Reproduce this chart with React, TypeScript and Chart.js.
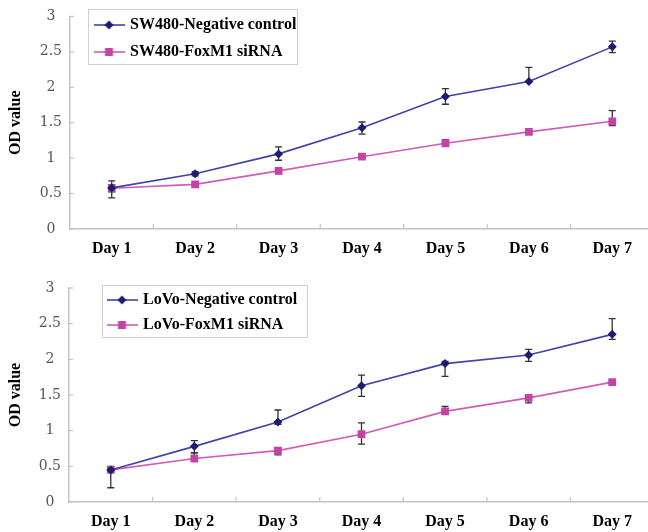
import React, { useEffect, useRef } from "react";
import { Chart, registerables } from "chart.js";

Chart.register(...registerables);

// ---------- data ----------
const days = ["Day 1", "Day 2", "Day 3", "Day 4", "Day 5", "Day 6", "Day 7"];
const yMin = 0;
const yMax = 3;
const yStep = 0.5;
const yTitle = "OD value";

// SW480 panel
const sw480Names = ["SW480-Negative control", "SW480-FoxM1 siRNA"];
const sw480Control = [0.58, 0.78, 1.06, 1.43, 1.87, 2.08, 2.57];
const sw480ControlErrUp = [0.1, 0.03, 0.1, 0.08, 0.11, 0.2, 0.08];
const sw480ControlErrDown = [0.14, 0.03, 0.09, 0.09, 0.11, 0.0, 0.08];
const sw480SiRNA = [0.575, 0.63, 0.82, 1.02, 1.21, 1.37, 1.52];
const sw480SiRNAErrUp = [0.05, 0.03, 0.04, 0.02, 0.05, 0.02, 0.15];
const sw480SiRNAErrDown = [0.05, 0.03, 0.04, 0.02, 0.03, 0.02, 0.06];

// LoVo panel
const lovoNames = ["LoVo-Negative control", "LoVo-FoxM1 siRNA"];
const lovoControl = [0.45, 0.78, 1.12, 1.63, 1.94, 2.06, 2.35];
const lovoControlErrUp = [0.05, 0.08, 0.17, 0.15, 0.03, 0.08, 0.22];
const lovoControlErrDown = [0.25, 0.09, 0.03, 0.15, 0.18, 0.09, 0.07];
const lovoSiRNA = [0.45, 0.61, 0.72, 0.95, 1.27, 1.46, 1.68];
const lovoSiRNAErrUp = [0.03, 0.08, 0.03, 0.16, 0.07, 0.04, 0.02];
const lovoSiRNAErrDown = [0.03, 0.03, 0.06, 0.14, 0.03, 0.07, 0.02];

// ---------- styles ----------
const CONTROL_LINE = "#4242aa";
const CONTROL_MARK = "#1c1c72";
const SI_LINE = "#d05cb6";
const SI_MARK = "#c444a6";
const AXIS = "#c4c4c4";
const ERR = "#333333";
const SERIF = "'Liberation Serif', 'Times New Roman', serif";

const CANVAS_W = 660;
const CANVAS_H = 266;

function makeLegendIcon(line: string, mark: string, shape: "diamond" | "square") {
  const c = document.createElement("canvas");
  c.width = 31;
  c.height = 12;
  const g = c.getContext("2d")!;
  g.strokeStyle = line;
  g.lineWidth = 1.6;
  g.beginPath();
  g.moveTo(0, 6);
  g.lineTo(31, 6);
  g.stroke();
  g.fillStyle = mark;
  if (shape === "diamond") {
    g.beginPath();
    g.moveTo(15.5, 1.5);
    g.lineTo(20, 6);
    g.lineTo(15.5, 10.5);
    g.lineTo(11, 6);
    g.closePath();
    g.fill();
  } else {
    g.fillRect(11.5, 2, 8, 8);
  }
  return c;
}

const errorBarPlugin = {
  id: "errorBars",
  beforeDatasetsDraw(chart: any) {
    const ctx = chart.ctx;
    const yScale = chart.scales.y;
    ctx.save();
    ctx.strokeStyle = ERR;
    ctx.lineWidth = 1.3;
    chart.data.datasets.forEach((ds: any, di: number) => {
      const meta = chart.getDatasetMeta(di);
      meta.data.forEach((pt: any, i: number) => {
        const v = ds.data[i];
        const up = ds.errUp[i];
        const dn = ds.errDown[i];
        const px = pt.x;
        const yt = yScale.getPixelForValue(v + up);
        const yb = yScale.getPixelForValue(v - dn);
        ctx.beginPath();
        ctx.moveTo(px, yt);
        ctx.lineTo(px, yb);
        if (up > 0) {
          ctx.moveTo(px - 3.5, yt);
          ctx.lineTo(px + 3.5, yt);
        }
        if (dn > 0) {
          ctx.moveTo(px - 3.5, yb);
          ctx.lineTo(px + 3.5, yb);
        }
        ctx.stroke();
      });
    });
    ctx.restore();
  },
};

const innerTicksPlugin = {
  id: "innerTicks",
  beforeDatasetsDraw(chart: any) {
    const ctx = chart.ctx;
    const { left, bottom } = chart.chartArea;
    const xs = chart.scales.x;
    const ys = chart.scales.y;
    ctx.save();
    ctx.strokeStyle = AXIS;
    ctx.lineWidth = 1.2;
    const n = chart.data.labels.length;
    const half = (xs.getPixelForValue(1) - xs.getPixelForValue(0)) / 2;
    for (let i = 0; i < n; i++) {
      const bx = xs.getPixelForValue(i) + half;
      ctx.beginPath();
      ctx.moveTo(bx, bottom);
      ctx.lineTo(bx, bottom - 5);
      ctx.stroke();
    }
    ys.ticks.forEach((t: any) => {
      const py = ys.getPixelForValue(t.value);
      ctx.beginPath();
      ctx.moveTo(left, py);
      ctx.lineTo(left + 4, py);
      ctx.stroke();
    });
    ctx.restore();
  },
};

type Panel = {
  names: string[];
  control: number[];
  controlUp: number[];
  controlDown: number[];
  si: number[];
  siUp: number[];
  siDown: number[];
  axisLeft: number;
  padTop: number;
  padBottom: number;
  legendX: number;
  legendY: number;
  legendPad: number;
  legendBox: [number, number, number, number];
};

const panels: Panel[] = [
  {
    names: sw480Names,
    control: sw480Control,
    controlUp: sw480ControlErrUp,
    controlDown: sw480ControlErrDown,
    si: sw480SiRNA,
    siUp: sw480SiRNAErrUp,
    siDown: sw480SiRNAErrDown,
    axisLeft: 70,
    padTop: 15,
    padBottom: 7,
    legendX: 85,
    legendY: 6,
    legendPad: 11,
    legendBox: [88, 9, 209, 55],
  },
  {
    names: lovoNames,
    control: lovoControl,
    controlUp: lovoControlErrUp,
    controlDown: lovoControlErrDown,
    si: lovoSiRNA,
    siUp: lovoSiRNAErrUp,
    siDown: lovoSiRNAErrDown,
    axisLeft: 69,
    padTop: 22,
    padBottom: 0,
    legendX: 100,
    legendY: 17,
    legendPad: 9,
    legendBox: [102, 19, 205, 52],
  },
];

function ChartPanel({ p }: { p: Panel }) {
  const ref = useRef<HTMLCanvasElement>(null);
  useEffect(() => {
    const icons = [
      makeLegendIcon(CONTROL_LINE, CONTROL_MARK, "diamond"),
      makeLegendIcon(SI_LINE, SI_MARK, "square"),
    ];
    const legendPlace = {
      id: "legendPlace",
      beforeDraw(chart: any) {
        if (chart.legend) {
          chart.legend.left = p.legendX;
          chart.legend.top = p.legendY;
        }
      },
      afterDraw(chart: any) {
        const ctx = chart.ctx;
        const [bx, by, bw, bh] = p.legendBox;
        ctx.save();
        ctx.strokeStyle = "#d0d0d0";
        ctx.lineWidth = 1;
        ctx.strokeRect(bx + 0.5, by + 0.5, bw, bh);
        ctx.restore();
      },
    };
    const chart = new Chart(ref.current!, {
      type: "line",
      data: {
        labels: days,
        datasets: [
          {
            label: p.names[0],
            data: p.control,
            errUp: p.controlUp,
            errDown: p.controlDown,
            borderColor: CONTROL_LINE,
            backgroundColor: CONTROL_MARK,
            borderWidth: 1.6,
            pointStyle: "rectRot",
            pointRadius: 4.5,
            pointBorderWidth: 0,
            pointBackgroundColor: CONTROL_MARK,
            tension: 0,
          } as any,
          {
            label: p.names[1],
            data: p.si,
            errUp: p.siUp,
            errDown: p.siDown,
            borderColor: SI_LINE,
            backgroundColor: SI_MARK,
            borderWidth: 1.6,
            pointStyle: "rect",
            pointRadius: 5.5,
            pointBorderWidth: 0,
            pointBackgroundColor: SI_MARK,
            tension: 0,
          } as any,
        ],
      },
      options: {
        animation: false,
        responsive: false,
        devicePixelRatio: 1,
        layout: { padding: { left: 0, right: 6, top: p.padTop, bottom: p.padBottom } },
        plugins: {
          tooltip: { enabled: false },
          legend: {
            position: "chartArea",
            align: "start",
            labels: {
              usePointStyle: true,
              pointStyleWidth: 26,
              padding: p.legendPad,
              color: "#000",
              font: { family: SERIF, size: 16, weight: "bold" },
              generateLabels: (chart: any) =>
                Chart.defaults.plugins.legend.labels
                  .generateLabels(chart)
                  .map((it: any, i: number) => ({ ...it, pointStyle: icons[i] })),
            },
          },
        },
        scales: {
          x: {
            type: "category",
            offset: true,
            grid: { display: false, drawTicks: false },
            border: { display: true, color: AXIS, width: 1.5 },
            ticks: {
              color: "#000",
              padding: 10,
              maxRotation: 0,
              autoSkip: false,
              font: { family: SERIF, size: 16, weight: "bold" },
            },
            afterFit: (s: any) => {
              s.height = 30;
            },
          },
          y: {
            min: yMin,
            max: yMax,
            grid: { display: false, drawTicks: false },
            border: { display: true, color: AXIS, width: 1.5 },
            ticks: {
              stepSize: yStep,
              color: "#555",
              padding: 8,
              crossAlign: "center",
              font: { family: "'DejaVu Serif', serif", size: 14 },
              callback: (v: any) => String(v),
            },
            title: {
              display: true,
              text: yTitle,
              color: "#000",
              padding: { top: 6, bottom: 0 },
              font: { family: SERIF, size: 16, weight: "bold" },
            },
            afterFit: (s: any) => {
              s.width = p.axisLeft;
            },
          },
        },
      } as any,
      plugins: [innerTicksPlugin, errorBarPlugin, legendPlace],
    });
    return () => chart.destroy();
  }, []);
  return (
    <canvas
      ref={ref}
      width={CANVAS_W}
      height={CANVAS_H}
      style={{ display: "block", width: CANVAS_W, height: CANVAS_H }}
    />
  );
}

export default function App() {
  return (
    <div
      style={{
        position: "fixed",
        left: 0,
        top: 0,
        width: 648,
        height: 532,
        overflow: "hidden",
        background: "#fff",
      }}
    >
      {panels.map((p, i) => (
        <ChartPanel key={i} p={p} />
      ))}
    </div>
  );
}
